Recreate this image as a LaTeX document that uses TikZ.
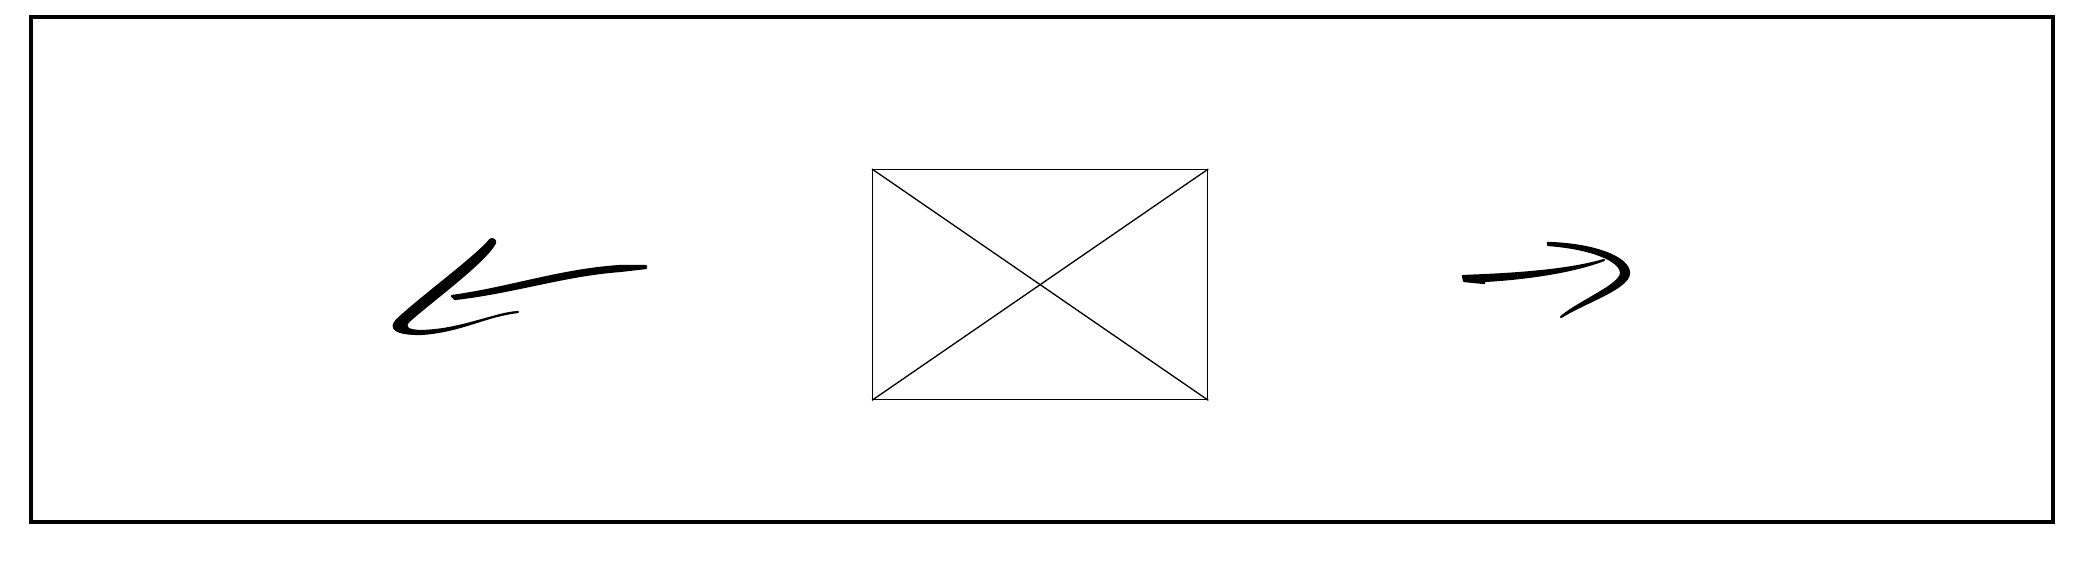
\documentclass[tikz,border=0pt]{standalone}
\begin{document}
\begin{tikzpicture}[x=0.5pt,y=-0.5pt,
  frame/.style={draw=black,line width=2pt},
  wire/.style={draw=black,line width=0.65pt},
  brush/.style={fill=black,draw=black,line width=1.1pt,line join=round,line cap=round}]
\useasboundingbox (0,0) rectangle (2084,568);
\draw[frame] (31,17) rectangle (2053,522);
% placeholder box
\node[wire,minimum width=167.5pt,minimum height=115pt,inner sep=0pt,anchor=north west] (box) at (872,169) {};
\draw[wire] (box.north west) -- (box.south east);
\draw[wire] (box.south west) -- (box.north east);
% left arrow: head stroke
\path[brush] (490,240) .. controls (475,258) and (420,298) .. (397,320)
  .. controls (389,328) and (395,334) .. (420,334)
  .. controls (460,332) and (490,314) .. (518,312)
  .. controls (490,315) and (460,330) .. (422,331)
  .. controls (407,331) and (403,327) .. (409,321)
  .. controls (430,302) and (485,262) .. (495,243)
  .. controls (496,240) and (492,238) .. (490,240) -- cycle;
% left arrow: shaft
\path[brush] (452,296) .. controls (510,288) and (560,270) .. (620,266) -- (646,266)
  -- (646,268) -- (620,271) .. controls (565,275) and (515,292) .. (455,299) -- cycle;
% right arrow: shaft
\path[brush] (1463,276) .. controls (1520,274) and (1570,270) .. (1604,260)
  .. controls (1570,273) and (1520,279) .. (1484,281) -- (1484,283) -- (1464,281) -- cycle;
% right arrow: head stroke
\path[brush] (1548,243) .. controls (1592,244) and (1629,257) .. (1629,273)
  .. controls (1629,288) and (1585,302) .. (1561,317)
  .. controls (1580,301) and (1621,285) .. (1621,273)
  .. controls (1621,260) and (1590,248) .. (1548,245) -- cycle;
\end{tikzpicture}
\end{document}
